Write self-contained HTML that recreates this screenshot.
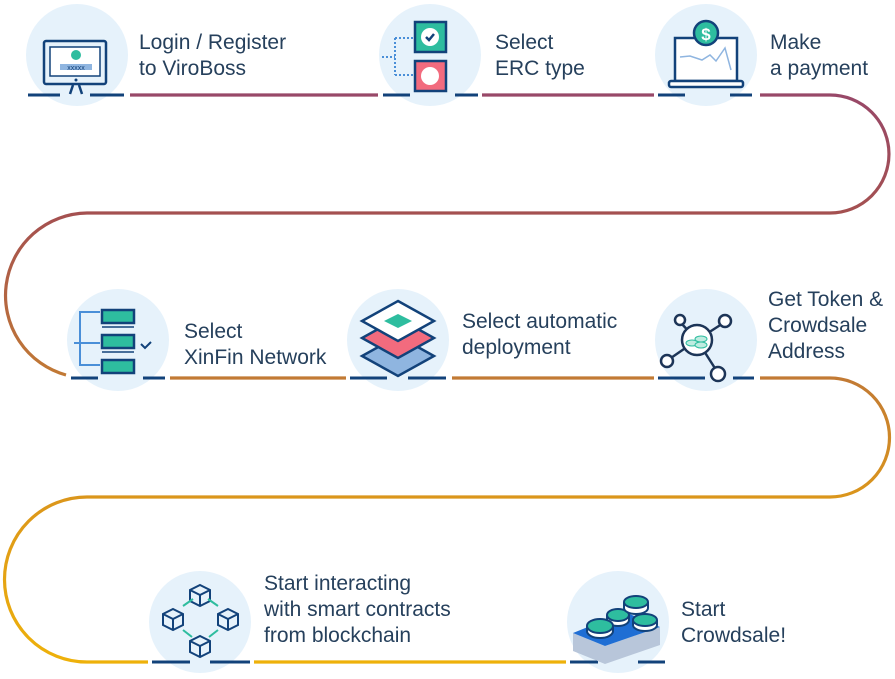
<!DOCTYPE html>
<html><head><meta charset="utf-8"><style>
html,body{margin:0;padding:0;background:#fff}
svg{display:block}
text{font-family:"Liberation Sans",sans-serif;font-size:21px;fill:#26405c}
</style></head><body>
<svg width="895" height="679" viewBox="0 0 895 679" xmlns="http://www.w3.org/2000/svg">
<defs>
<linearGradient id="g" gradientUnits="userSpaceOnUse" x1="0" y1="95" x2="0" y2="662">
<stop offset="0" stop-color="#984868"/>
<stop offset="0.22" stop-color="#a5514f"/>
<stop offset="0.5" stop-color="#c27a34"/>
<stop offset="0.72" stop-color="#dc971a"/>
<stop offset="1" stop-color="#eeb10a"/>
</linearGradient>
</defs>
<g fill="#e6f2fb">
<circle cx="77" cy="55" r="51"/><circle cx="430" cy="55" r="51"/><circle cx="706" cy="55" r="51"/>
<circle cx="118" cy="340" r="51"/><circle cx="398" cy="340" r="51"/><circle cx="706" cy="340" r="51"/>
<circle cx="200" cy="622" r="51"/><circle cx="618" cy="622" r="51"/>
</g>
<path d="M130 95 H378 M482 95 H654 M760 95 H830 A59 59 0 0 1 830 213 H87 A82.5 82.5 0 0 0 66 375 M170 378 H346 M452 378 H654 M760 378 H830 A59.5 59.5 0 0 1 830 497 H87 A82.5 82.5 0 0 0 87 662 H148 M254 662 H566" fill="none" stroke="url(#g)" stroke-width="3.2"/>
<g stroke="#12427a" stroke-width="3">
<path d="M28 95H60M90 95H124M383 95H410M455 95H478M658 95H685M730 95H752"/>
<path d="M71 378H98M143 378H165M350 378H387M408 378H446M658 378H705M733 378H754"/>
<path d="M152 662H190M210 662H250M570 662H598M638 662H665"/>
</g>
<!-- icon 1 monitor -->
<g stroke="#12427a" stroke-width="2.5" fill="none">
<rect x="44" y="41" width="62" height="43" rx="2"/>
<rect x="50" y="47" width="50" height="29" fill="#fff" stroke-width="1.5"/>
<path d="M73 85 L70 94 M79 85 L82 94"/>
</g>
<circle cx="76" cy="80" r="1.5" fill="#12427a"/>
<circle cx="76" cy="55" r="5" fill="#2ebd9f"/>
<rect x="60" y="64" width="32" height="6" fill="#8fb5e0"/>
<text x="76" y="70" text-anchor="middle" style="font-size:7px;fill:#12427a">xxxxx</text>
<!-- icon 2 -->
<path d="M382 57 H395 M395 38 V75 M395 38 H414 M395 75 H414" stroke="#4a8fd8" stroke-width="2" stroke-dasharray="2 2" fill="none"/>
<rect x="415" y="22" width="31" height="30" fill="#2ebd9f" stroke="#12427a" stroke-width="2.5"/>
<circle cx="430" cy="37" r="9" fill="#fff"/>
<path d="M426 37 l3 3 l5 -6" stroke="#12427a" stroke-width="2.5" fill="none"/>
<rect x="415" y="61" width="31" height="30" fill="#f26b7e" stroke="#12427a" stroke-width="2.5"/>
<circle cx="430" cy="76" r="9" fill="#fff"/>
<!-- icon 3 laptop -->
<rect x="675" y="38" width="62" height="43" fill="#fff" stroke="#12427a" stroke-width="2.5"/>
<path d="M680 57 L690 56 L702 60 L710 55 L716 61 L725 48 L731 70" stroke="#8fb5e0" stroke-width="1.5" fill="none"/>
<rect x="669" y="81" width="74" height="6" rx="2" fill="#fff" stroke="#12427a" stroke-width="2.5"/>
<circle cx="706" cy="33" r="12" fill="#2ebd9f" stroke="#12427a" stroke-width="2.5"/>
<text x="706" y="40" text-anchor="middle" style="font-size:17px;font-weight:bold;fill:#fff">$</text>
<!-- icon 4 -->
<path d="M100 312 H80 V365 H100 M74 343 H100" stroke="#4a8fd8" stroke-width="2" fill="none"/>
<g fill="#2ebd9f" stroke="#12427a" stroke-width="2.5">
<rect x="102" y="310" width="32" height="13"/><rect x="102" y="335" width="32" height="13"/><rect x="102" y="360" width="32" height="13"/>
</g>
<path d="M102 327H134M102 352H134" stroke="#12427a" stroke-width="1.5"/>
<path d="M141 344 l4 4 l6 -6" stroke="#12427a" stroke-width="2" fill="none"/>
<!-- icon 5 -->
<g stroke="#12427a" stroke-width="2.5">
<path d="M398 336 L434 356 L398 376 L362 356Z" fill="#8fb5e0"/>
<path d="M398 318 L434 338 L398 358 L362 338Z" fill="#f26b7e"/>
<path d="M398 301 L434 321 L398 341 L362 321Z" fill="#fff"/>
</g>
<path d="M398 314 L412 321 L398 328 L384 321Z" fill="#2ebd9f"/>
<!-- icon 6 -->
<g stroke="#1d3557" stroke-width="2.5" fill="#fff">
<path d="M680 322 L697 340 M725 322 L697 340 M668 360 L697 340 M718 373 L697 340" fill="none"/>
<circle cx="697" cy="340" r="15"/>
<circle cx="680" cy="320" r="5"/><circle cx="725" cy="321" r="6"/><circle cx="667" cy="361" r="6"/><circle cx="718" cy="374" r="7"/>
</g>
<g fill="#bfece0" stroke="#2ebd9f" stroke-width="1"><ellipse cx="692" cy="343" rx="6" ry="3"/><ellipse cx="701" cy="339" rx="6" ry="3"/><ellipse cx="701" cy="345" rx="6" ry="3"/></g>
<!-- icon 7 cubes -->
<g stroke="#12427a" stroke-width="2" fill="none">
<path d="M200 585 l10 5 v11 l-10 5 l-10 -5 v-11z M190 590 l10 5 l10 -5 M200 595 v11"/>
<path d="M173 609 l10 5 v11 l-10 5 l-10 -5 v-11z M163 614 l10 5 l10 -5 M173 619 v11"/>
<path d="M228 609 l10 5 v11 l-10 5 l-10 -5 v-11z M218 614 l10 5 l10 -5 M228 619 v11"/>
<path d="M200 636 l10 5 v11 l-10 5 l-10 -5 v-11z M190 641 l10 5 l10 -5 M200 646 v11"/>
</g>
<path d="M183 606 L193 599 M208 599 L218 606 M183 630 L192 637 M209 637 L218 630" stroke="#2ebd9f" stroke-width="2"/>
<!-- icon 8 -->
<path d="M573 633 L605 646 L660 627 L660 645 L605 664 L573 651Z" fill="#b8c6da"/>
<path d="M573 633 L625 612 L660 627 L605 646Z" fill="#1f6ed4"/>
<g stroke="#12427a" stroke-width="2">
<path d="M607 615 v5 a11 6 0 0 0 22 0 v-5" fill="#fff"/><ellipse cx="618" cy="615" rx="11" ry="6" fill="#2ebd9f"/>
<path d="M587 626 v5 a13 7 0 0 0 26 0 v-5" fill="#fff"/><ellipse cx="600" cy="626" rx="13" ry="7" fill="#2ebd9f"/>
<path d="M633 620 v5 a12 6 0 0 0 24 0 v-5" fill="#fff"/><ellipse cx="645" cy="620" rx="12" ry="6" fill="#2ebd9f"/>
<path d="M624 602 v6 a12 6 0 0 0 24 0 v-6" fill="#fff"/><ellipse cx="636" cy="602" rx="12" ry="6" fill="#2ebd9f"/>
</g>
<text x="139" y="49">Login / Register</text><text x="139" y="75">to ViroBoss</text>
<text x="495" y="49">Select</text><text x="495" y="75">ERC type</text>
<text x="770" y="49">Make</text><text x="770" y="75">a payment</text>
<text x="184" y="338">Select</text><text x="184" y="364">XinFin Network</text>
<text x="462" y="328">Select automatic</text><text x="462" y="354">deployment</text>
<text x="768" y="306">Get Token &amp;</text><text x="768" y="332">Crowdsale</text><text x="768" y="358">Address</text>
<text x="264" y="590">Start interacting</text><text x="264" y="616">with smart contracts</text><text x="264" y="642">from blockchain</text>
<text x="681" y="616">Start</text><text x="681" y="642">Crowdsale!</text>
</svg>
</body></html>
